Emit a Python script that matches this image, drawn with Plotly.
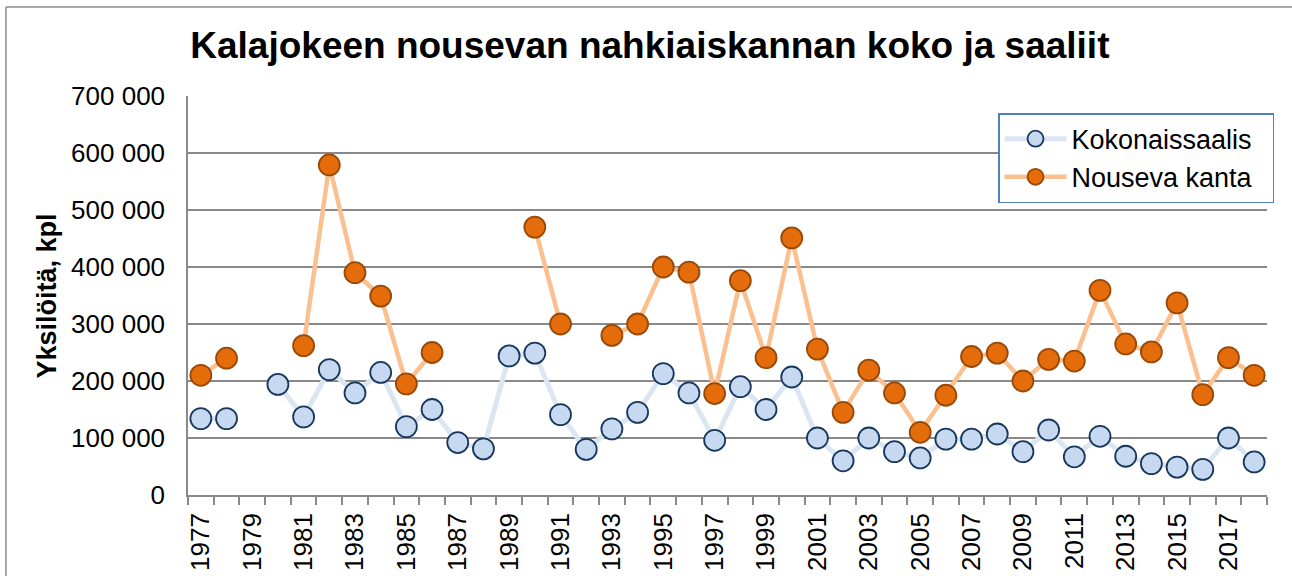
import plotly.graph_objects as go

years = [1977, 1978, 1979, 1980, 1981, 1982, 1983, 1984, 1985, 1986,
         1987, 1988, 1989, 1990, 1991, 1992, 1993, 1994, 1995, 1996,
         1997, 1998, 1999, 2000, 2001, 2002, 2003, 2004, 2005, 2006,
         2007, 2008, 2009, 2010, 2011, 2012, 2013, 2014, 2015, 2016,
         2017, 2018]

kokonaissaalis = [134000, 134000, None, 194000, 137000, 220000, 179000, 215000, 120000, 150000,
                  92000, 81000, 244000, 249000, 141000, 80000, 116000, 145000, 213000, 179000,
                  96000, 190000, 150000, 207000, 100000, 60000, 100000, 76000, 65000, 98000,
                  98000, 107000, 76000, 114000, 67000, 103000, 68000, 55000, 49000, 45000,
                  100000, 58000]

nouseva_kanta = [210000, 240000, None, None, 262000, 579000, 390000, 349000, 195000, 250000,
                 None, None, None, 470000, 300000, None, 280000, 300000, 400000, 391000,
                 178000, 376000, 241000, 451000, 256000, 145000, 219000, 179000, 110000, 175000,
                 243000, 249000, 200000, 238000, 235000, 359000, 265000, 251000, 337000, 176000,
                 241000, 210000]

tick_years = [1977, 1979, 1981, 1983, 1985, 1987, 1989, 1991, 1993, 1995, 1997,
              1999, 2001, 2003, 2005, 2007, 2009, 2011, 2013, 2015, 2017]

title_text = "Kalajokeen nousevan nahkiaiskannan koko ja saaliit"
y_title = "Yksilöitä, kpl"

FONT = "Liberation Sans, Arial, sans-serif"
GRID = "#898989"
BORDER = "#8C8C8C"

fig = go.Figure()
fig.add_trace(go.Scatter(
    x=years, y=kokonaissaalis, name="Kokonaissaalis&nbsp;&nbsp;", mode="lines+markers",
    line=dict(color="#DCE6F2", width=5),
    marker=dict(size=21, color="#C6D9F1", line=dict(color="#17375E", width=1.8)),
    connectgaps=False,
))
fig.add_trace(go.Scatter(
    x=years, y=nouseva_kanta, name="Nouseva kanta", mode="lines+markers",
    line=dict(color="#FAC090", width=4.5),
    marker=dict(size=21, color="#E46C0A", line=dict(color="#984807", width=1.8)),
    connectgaps=False,
))

fig.update_layout(
    width=1292, height=576,
    margin=dict(l=188, r=25, t=96, b=81, autoexpand=False),
    paper_bgcolor="white", plot_bgcolor="white",
    separators=", ",
    font=dict(family=FONT, size=26, color="black"),
    title=dict(text="<b>" + title_text + "</b>", x=0.503, xanchor="center",
               xref="container", yref="container", y=0.922, yanchor="middle",
               font=dict(family=FONT, size=37, color="black")),
    showlegend=True,
    legend=dict(x=0.7507, y=0.957, xanchor="left", yanchor="top",
                bgcolor="white", bordercolor="#4F81BD", borderwidth=1.5,
                font=dict(family=FONT, size=27, color="black"),
                itemwidth=62, tracegroupgap=2),
    xaxis=dict(range=[1976.5, 2018.5], tickmode="array", tickvals=tick_years,
               ticktext=[str(t) for t in tick_years], tickangle=-90, ticks="",
               showgrid=False, showline=True, linecolor=GRID, linewidth=1.5,
               zeroline=False, ticklabelstandoff=6, automargin=False,
               tickfont=dict(family=FONT, size=26, color="black"),
               minor=dict(ticks="outside", ticklen=8, tickcolor=GRID, tickwidth=1.5,
                          tick0=1976.5, dtick=1, showgrid=False)),
    yaxis=dict(range=[0, 700000], dtick=100000, tickformat=",d",
               showgrid=True, gridcolor=GRID, gridwidth=1.5,
               showline=True, linecolor=GRID, linewidth=1.5, zeroline=False,
               ticks="", ticklabelstandoff=16, automargin=False,
               tickfont=dict(family=FONT, size=26, color="black")),
    annotations=[dict(text="<b>" + y_title + "</b>", textangle=-90, xref="paper", yref="paper",
                      x=-0.1307, y=0.5, xanchor="center", yanchor="middle", showarrow=False,
                      font=dict(family=FONT, size=27, color="black"))],
    shapes=[
        dict(type="rect", xref="paper", yref="paper", x0=1.009, x1=1.2,
             y0=-0.35, y1=1.3, line=dict(width=0), fillcolor="white", layer="above"),
        dict(type="line", xref="paper", yref="paper", x0=-0.1687, x1=-0.1687,
             y0=-0.35, y1=1.223, line=dict(color=BORDER, width=1.5), layer="above"),
        dict(type="line", xref="paper", yref="paper", x0=-0.1687, x1=1.2,
             y0=1.223, y1=1.223, line=dict(color=BORDER, width=1.5), layer="above"),
    ],
)

fig.write_html(
    "out.html", config={"displayModeBar": False},
    post_script="document.body.style.margin='0';document.body.style.overflow='hidden';"
                "document.documentElement.style.overflow='hidden';")
